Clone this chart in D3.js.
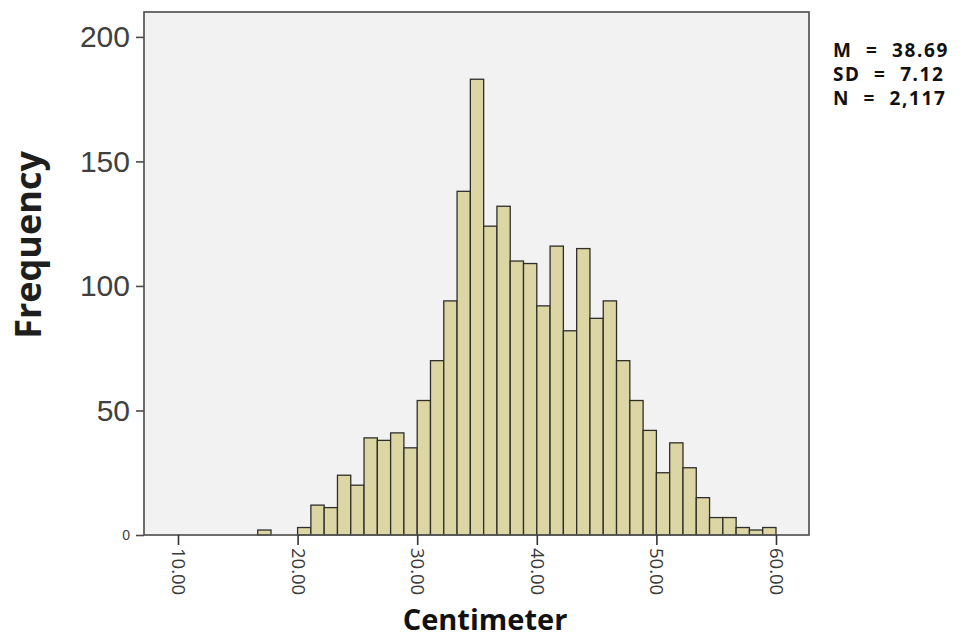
<!DOCTYPE html>
<html>
<head>
<meta charset="utf-8">
<script src="https://cdn.jsdelivr.net/npm/d3@7"></script>
<style>
  html, body { margin: 0; padding: 0; background: #ffffff; }
  svg { display: block; }
</style>
</head>
<body>
<svg id="chart" width="963" height="639"></svg>
<script>
// Histogram of body measurements (centimeters), bin width 10/9 cm starting at 20
const binStart = 20;
const binWidth = 10 / 9;
// bin indices relative to binStart, and counts per bin
const binIndex = [-3, 0, 1, 2, 3, 4, 5, 6, 7, 8, 9, 10, 11, 12, 13, 14, 15, 16, 17, 18,
                  19, 20, 21, 22, 23, 24, 25, 26, 27, 28, 29, 30, 31, 32, 33, 34, 35];
const counts   = [2, 3, 12, 11, 24, 20, 39, 38, 41, 35, 54, 70, 94, 138, 183, 124, 132, 110, 109, 92,
                  116, 82, 115, 87, 94, 70, 54, 42, 25, 37, 27, 15, 7, 7, 3, 2, 3];
const xTicks = [10, 20, 30, 40, 50, 60];
const yTicks = [0, 50, 100, 150, 200];
const statLines = ["M = 38.69", "SD = 7.12", "N = 2,117"];

const bins = binIndex.map((k, i) => ({
  x0: binStart + k * binWidth,
  x1: binStart + (k + 1) * binWidth,
  count: counts[i]
}));

const svg = d3.select("#chart");
const frame = { left: 144, right: 809, top: 12, bottom: 535 };

const x = d3.scaleLinear().domain([10, 60]).range([178, 776]);
const y = d3.scaleLinear().domain([0, 210]).range([frame.bottom, frame.top]);

// plot background
svg.append("rect")
  .attr("x", frame.left).attr("y", frame.top)
  .attr("width", frame.right - frame.left)
  .attr("height", frame.bottom - frame.top)
  .attr("fill", "#f2f2f2");

// bars
svg.append("g").selectAll("rect").data(bins).enter().append("rect")
  .attr("x", d => x(d.x0))
  .attr("y", d => y(d.count))
  .attr("width", d => x(d.x1) - x(d.x0))
  .attr("height", d => y(0) - y(d.count))
  .attr("fill", "#dcd6a5")
  .attr("stroke", "#2e2e2a")
  .attr("stroke-width", 1.3);

// frame
svg.append("rect")
  .attr("x", frame.left).attr("y", frame.top)
  .attr("width", frame.right - frame.left)
  .attr("height", frame.bottom - frame.top)
  .attr("fill", "none")
  .attr("stroke", "#555")
  .attr("stroke-width", 1.7);

// y axis
const yAxis = svg.append("g")
  .attr("transform", `translate(${frame.left},0)`)
  .call(d3.axisLeft(y).tickValues(yTicks).tickSize(8).tickSizeOuter(0).tickPadding(6));
yAxis.select(".domain").remove();
yAxis.selectAll(".tick line").attr("stroke", "#4a4a4a").attr("stroke-width", 1.6);
yAxis.selectAll(".tick text")
  .attr("fill", "#404040")
  .style("font-family", "'Liberation Sans', Arial, sans-serif")
  .style("font-size", d => d === 0 ? "14px" : "30px");

// x axis
const xAxis = svg.append("g")
  .attr("transform", `translate(0,${frame.bottom})`)
  .call(d3.axisBottom(x).tickValues(xTicks).tickSize(10).tickSizeOuter(0)
    .tickFormat(d3.format(".2f")));
xAxis.select(".domain").remove();
xAxis.selectAll(".tick line").attr("stroke", "#333").attr("stroke-width", 1.6);
xAxis.selectAll(".tick text")
  .attr("fill", "#3a3a3a")
  .style("font-family", "'Open Sans', 'Noto Sans', sans-serif")
  .style("font-size", "18.5px")
  .attr("transform", "rotate(90)")
  .attr("x", 13).attr("y", 0).attr("dy", "0.35em")
  .attr("text-anchor", "start");

// axis titles
svg.append("text")
  .attr("transform", "translate(41,245) rotate(-90)")
  .attr("text-anchor", "middle")
  .attr("fill", "#1e1e1e")
  .style("font-family", "'Open Sans', 'Noto Sans', sans-serif")
  .style("font-weight", "bold")
  .style("font-size", "36px")
  .text("Frequency");

svg.append("text")
  .attr("x", 485).attr("y", 630)
  .attr("text-anchor", "middle")
  .attr("fill", "#111")
  .style("font-family", "'Open Sans', 'Noto Sans', sans-serif")
  .style("font-weight", "bold")
  .style("font-size", "29px")
  .text("Centimeter");

// summary statistics
svg.append("g").selectAll("text").data(statLines).enter().append("text")
  .attr("x", 833)
  .attr("y", (d, i) => 57 + i * 24)
  .attr("fill", "#111")
  .style("font-family", "'Noto Sans', 'Open Sans', sans-serif")
  .style("font-weight", "bold")
  .style("font-size", "19px")
  .style("letter-spacing", "1.6px")
  .style("word-spacing", "7px")
  .text(d => d);
</script>
</body>
</html>
